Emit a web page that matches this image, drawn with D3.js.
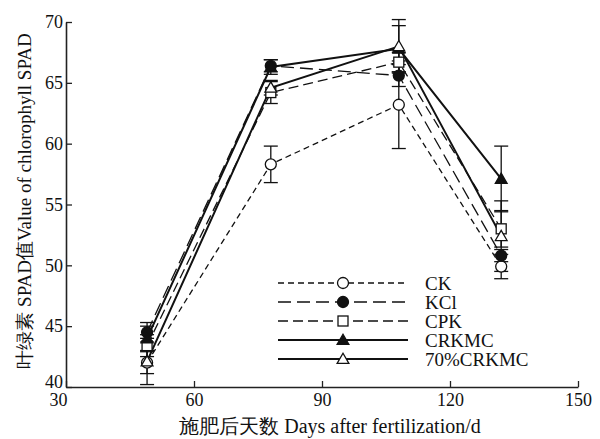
<!DOCTYPE html>
<html>
<head>
<meta charset="utf-8">
<script src="https://cdn.jsdelivr.net/npm/d3@7"></script>
<style>
  body { margin: 0; background: #fff; }
  text { font-family: "Liberation Serif", "Times New Roman", serif; fill: #111; }
</style>
</head>
<body>
<div id="chart"></div>
<script>
// Data
const days = [49, 78, 108, 132];
const seriesNames = ["CK", "KCl", "CPK", "CRKMC", "70%CRKMC"];
const ckMean = [42.0, 58.3, 63.2, 49.9];
const ckErr = [0.9, 1.5, 3.6, 1.0];
const kclMean = [44.5, 66.4, 65.6, 50.8];
const kclErr = [0.8, 0.5, 0.9, 0.5];
const cpkMean = [43.4, 64.2, 66.7, 53.0];
const cpkErr = [0.9, 0.9, 0.8, 1.5];
const crkmcMean = [44.0, 66.3, 67.8, 57.1];
const crkmcErr = [1.0, 0.6, 1.9, 2.7];
const crkmc70Mean = [42.1, 64.6, 68.0, 52.4];
const crkmc70Err = [1.9, 0.6, 2.2, 2.9];
const xTicks = [30, 60, 90, 120, 150];
const yTicks = [40, 45, 50, 55, 60, 65, 70];

const W = 600, H = 439;
const margin = { top: 22, right: 22, bottom: 52, left: 66 };

const svg = d3.select("#chart").append("svg")
    .attr("width", W).attr("height", H);

const x = d3.scaleLinear().domain([30, 150]).range([margin.left, W - margin.right]);
const y = d3.scaleLinear().domain([40, 70]).range([H - margin.bottom, margin.top]);

// axes with inward ticks
const xAxis = svg.append("g")
    .attr("transform", `translate(0,${y(40)})`)
    .call(d3.axisBottom(x).tickValues(xTicks).tickSizeInner(-6).tickSizeOuter(0).tickPadding(6));
const yAxis = svg.append("g")
    .attr("transform", `translate(${x(30)},0)`)
    .call(d3.axisLeft(y).tickValues(yTicks).tickSizeInner(-6).tickSizeOuter(0).tickPadding(3));
[xAxis, yAxis].forEach(g => {
    g.select(".domain").attr("stroke", "#222").attr("stroke-width", 1.6);
    g.selectAll(".tick line").attr("stroke", "#222").attr("stroke-width", 1.3);
    g.selectAll(".tick text").attr("font-size", 18).attr("fill", "#111")
        .style("font-family", "Liberation Serif, serif");
});
xAxis.select(".tick:first-of-type text").attr("dx", -8);
yAxis.select(".tick:first-of-type text").attr("dy", "0em");

// axis titles
svg.append("text")
    .attr("x", 330).attr("y", 433)
    .attr("text-anchor", "middle").attr("font-size", 20)
    .text("施肥后天数 Days after fertilization/d");
svg.append("text")
    .attr("transform", `translate(31,${201}) rotate(-90)`)
    .attr("text-anchor", "middle").attr("font-size", 19)
    .text("叶绿素 SPAD值Value of chlorophyll SPAD");

const series = [
    { name: seriesNames[0], mean: ckMean, err: ckErr, dash: "6,4", width: 1.3, marker: "circle", fill: "#fff" },
    { name: seriesNames[1], mean: kclMean, err: kclErr, dash: "13,6", width: 1.3, marker: "circle", fill: "#111" },
    { name: seriesNames[2], mean: cpkMean, err: cpkErr, dash: "10,5", width: 1.3, marker: "square", fill: "#fff" },
    { name: seriesNames[3], mean: crkmcMean, err: crkmcErr, dash: null, width: 2, marker: "triangle", fill: "#111" },
    { name: seriesNames[4], mean: crkmc70Mean, err: crkmc70Err, dash: null, width: 2, marker: "triangle", fill: "#fff" }
];

const line = d3.line().x(d => x(d[0])).y(d => y(d[1]));

function drawMarker(g, type, fill, cx, cy) {
    if (type === "circle") {
        g.append("circle").attr("cx", cx).attr("cy", cy).attr("r", 5.5)
            .attr("fill", fill).attr("stroke", "#111").attr("stroke-width", 1.3);
    } else if (type === "square") {
        g.append("rect").attr("x", cx - 5).attr("y", cy - 5).attr("width", 10).attr("height", 10)
            .attr("fill", fill).attr("stroke", "#111").attr("stroke-width", 1.3);
    } else {
        const s = d3.symbol().type(d3.symbolTriangle).size(60);
        g.append("path").attr("d", s()).attr("transform", `translate(${cx},${cy + 1})`)
            .attr("fill", fill).attr("stroke", "#111").attr("stroke-width", 1.3);
    }
}

const plot = svg.append("g");

// error bars
series.forEach(s => {
    days.forEach((d, i) => {
        const g = plot.append("g").attr("stroke", "#111").attr("stroke-width", 1.3);
        const top = y(s.mean[i] + s.err[i]), bot = y(s.mean[i] - s.err[i]);
        g.append("line").attr("x1", x(d)).attr("x2", x(d)).attr("y1", top).attr("y2", bot);
        g.append("line").attr("x1", x(d) - 7).attr("x2", x(d) + 7).attr("y1", top).attr("y2", top);
        g.append("line").attr("x1", x(d) - 7).attr("x2", x(d) + 7).attr("y1", bot).attr("y2", bot);
    });
});

// lines
series.forEach(s => {
    plot.append("path")
        .datum(days.map((d, i) => [d, s.mean[i]]))
        .attr("d", line)
        .attr("fill", "none")
        .attr("stroke", "#111")
        .attr("stroke-width", s.width)
        .attr("stroke-dasharray", s.dash);
});

// markers
series.forEach(s => {
    days.forEach((d, i) => drawMarker(plot, s.marker, s.fill, x(d), y(s.mean[i])));
});

// legend
const legend = svg.append("g");
const rowY = [283, 302, 321, 340, 359];
series.forEach((s, i) => {
    legend.append("line")
        .attr("x1", 278).attr("x2", 408).attr("y1", rowY[i]).attr("y2", rowY[i])
        .attr("stroke", "#111").attr("stroke-width", s.width)
        .attr("stroke-dasharray", s.dash);
    drawMarker(legend, s.marker, s.fill, 343, rowY[i]);
    legend.append("text")
        .attr("x", 425).attr("y", rowY[i] + 7)
        .attr("font-size", 19)
        .text(s.name);
});
</script>
</body>
</html>
